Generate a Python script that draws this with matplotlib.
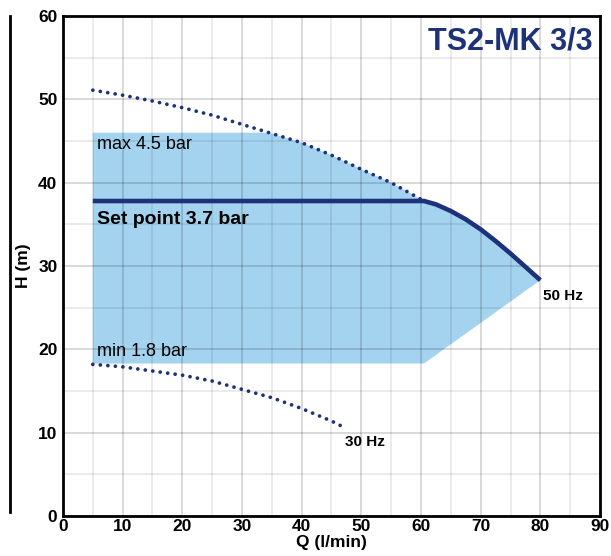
import numpy as np
import matplotlib
matplotlib.use("Agg")
import matplotlib.pyplot as plt
from matplotlib.lines import Line2D

plt.rcParams['font.family'] = ['Liberation Sans', 'DejaVu Sans']

# 50 Hz curve (dotted part, full speed)
q_50 = [5, 10, 15, 20, 25, 30, 35, 40, 45, 50, 55, 60.5]
h_50 = [51.1, 50.5, 49.8, 49.0, 48.1, 47.0, 45.9, 44.8, 43.3, 41.6, 40.0, 37.8]

# 50 Hz curve beyond set point (solid part)
q_50_end = [60.5, 62.5, 65, 67.5, 70, 72.5, 75, 77.5, 80]
h_50_end = [37.8, 37.4, 36.6, 35.6, 34.4, 33.0, 31.5, 29.9, 28.3]

# 30 Hz curve
q_30 = [5, 10, 15, 20, 25, 30, 35, 40, 45, 47.5]
h_30 = [18.2, 17.9, 17.4, 16.9, 16.2, 15.2, 14.2, 12.9, 11.4, 10.5]

h_max = 46.0   # max 4.5 bar
h_min = 18.3   # min 1.8 bar
h_set = 37.8   # set point 3.7 bar
q_start = 5
q_knee = 60.5

navy = "#1d3278"
fill_blue = "#a4d3ef"

fig = plt.figure(figsize=(6.11, 5.56), dpi=100)
ax = fig.add_axes([0.1031, 0.0719, 0.8789, 0.8993])

# operating area: top clipped by the 50 Hz curve
q_top = np.linspace(q_start, q_knee, 200)
h_top = np.minimum(np.interp(q_top, q_50, h_50), h_max)
poly_q = list(q_top) + q_50_end + [q_knee, q_start]
poly_h = list(h_top) + h_50_end + [h_min, h_min]
ax.fill(poly_q, poly_h, color=fill_blue, lw=0, zorder=1)

dots = dict(color=navy, lw=2.7, linestyle=(0, (0.01, 2.0)),
            dash_capstyle="round", zorder=3)
ax.plot(q_50, h_50, **dots)
ax.plot(q_30, h_30, **dots)

ax.plot([q_start] + q_50_end, [h_set] + h_50_end,
        color=navy, lw=3.3, solid_capstyle="butt", solid_joinstyle="round",
        zorder=4)

ax.set_xlim(0, 90)
ax.set_ylim(0, 60)
ax.set_xticks(np.arange(0, 91, 10))
ax.set_yticks(np.arange(0, 61, 10))
ax.set_xticks(np.arange(5, 90, 10), minor=True)
ax.set_yticks(np.arange(5, 60, 10), minor=True)
ax.set_axisbelow(False)
ax.grid(which="major", color="black", alpha=0.15, lw=1.4)
ax.grid(which="minor", color="black", alpha=0.1, lw=1.1)
ax.tick_params(which="both", length=0)
ax.tick_params(axis="x", pad=2)
ax.tick_params(axis="y", pad=4)
for lab in ax.get_xticklabels() + ax.get_yticklabels():
    lab.set_fontsize(12.5)
    lab.set_fontweight("bold")
for s in ax.spines.values():
    s.set_linewidth(2)
    s.set_zorder(5)

ax.set_xlabel("Q (l/min)", fontsize=12.5, fontweight="bold", labelpad=1)
ax.set_ylabel("H (m)", fontsize=12.5, fontweight="bold", labelpad=5)

ax.text(5.7, 44.6, "max 4.5 bar", fontsize=13, va="center", zorder=6)
ax.text(5.7, 35.6, "Set point 3.7 bar", fontsize=14, fontweight="bold",
        va="center", zorder=6)
ax.text(5.7, 19.8, "min 1.8 bar", fontsize=13, va="center", zorder=6)
ax.text(80.4, 26.4, "50 Hz", fontsize=11, fontweight="bold", va="center")
ax.text(47.3, 8.9, "30 Hz", fontsize=11, fontweight="bold", va="center")
ax.text(88.8, 57.0, "TS2-MK 3/3", fontsize=22, fontweight="bold",
        color=navy, ha="right", va="center")

fig.add_artist(Line2D([10 / 611, 10 / 611], [1 - 16 / 556, 1 - 512 / 556],
                      color="black", lw=2, transform=fig.transFigure))

fig.savefig("out.png", dpi=100)
